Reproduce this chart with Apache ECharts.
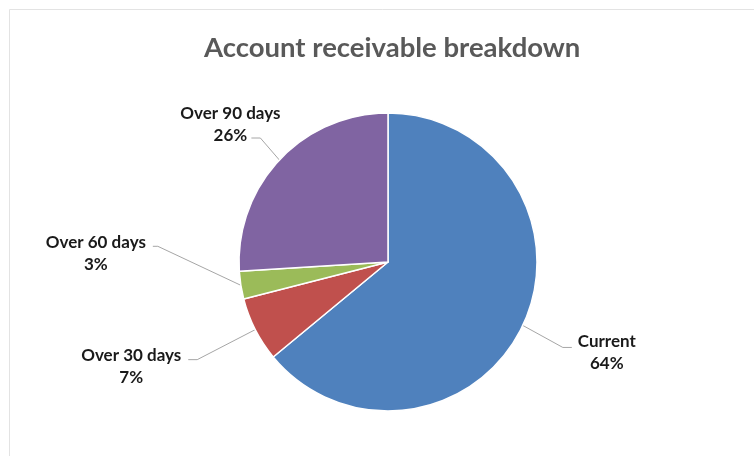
<!DOCTYPE html>
<html><head><meta charset="utf-8">
<script src="https://cdn.jsdelivr.net/npm/echarts@6/dist/echarts.min.js"></script>
<style>html,body{margin:0;padding:0;background:#fff}#c{width:754px;height:456px}</style>
</head><body><div id="c"></div>
<script>
const titleText = 'Account receivable breakdown';
const categories = ['Current', 'Over 30 days', 'Over 60 days', 'Over 90 days'];
const values = [64, 7, 3, 26];
const colors = ['#4F81BD', '#C0504D', '#9BBB59', '#8064A2'];

// leader-line geometry, relative to the slice edge point ECharts computes
// bend: offset of the elbow from the edge; run: horizontal segment; text: label centre from line end
const leader = [
  {bend: [40, 22], run: 9, text: [35, 5]},
  {bend: [-58, 30], run: -9, text: [-57, 7]},
  {bend: [-83, -39], run: -5, text: [-57, 7]},
  {bend: [-19, -22], run: -9, text: [-21, -13]}
];

const chart = echarts.init(document.getElementById('c'), null, {renderer: 'canvas'});
chart.setOption({
  animation: false,
  backgroundColor: '#fff',
  graphic: [{
    type: 'rect', left: 7, top: 7,
    shape: {width: 800, height: 500},
    style: {fill: 'none', stroke: '#e3e3e3', lineWidth: 1}
  }],
  title: {
    text: titleText, left: 199, top: 29,
    textStyle: {fontFamily: 'Lato', fontSize: 27.5, fontWeight: 'bold', color: '#595959'}
  },
  series: [{
    type: 'pie',
    center: [388, 262],
    radius: 149,
    startAngle: 90,
    clockwise: true,
    itemStyle: {borderColor: '#fff', borderWidth: 1.5},
    label: {
      show: true,
      position: 'outside',
      formatter: '{b}\n{d}%',
      fontFamily: 'Lato', fontWeight: 'bold', fontSize: 17, color: '#1a1a1a', lineHeight: 22
    },
    labelLine: {show: true, length: 30, length2: 10, lineStyle: {color: '#a6a6a6', width: 1}},
    labelLayout: function (p) {
      const g = leader[p.dataIndex];
      const e = p.labelLinePoints[0];
      const b = [e[0] + g.bend[0], e[1] + g.bend[1]];
      const end = [b[0] + g.run, b[1]];
      return {
        x: end[0] + g.text[0], y: end[1] + g.text[1],
        align: 'center', verticalAlign: 'middle',
        labelLinePoints: [e, b, end]
      };
    },
    data: categories.map((n, i) => ({name: n, value: values[i], itemStyle: {color: colors[i]}}))
  }]
});
</script></body></html>
